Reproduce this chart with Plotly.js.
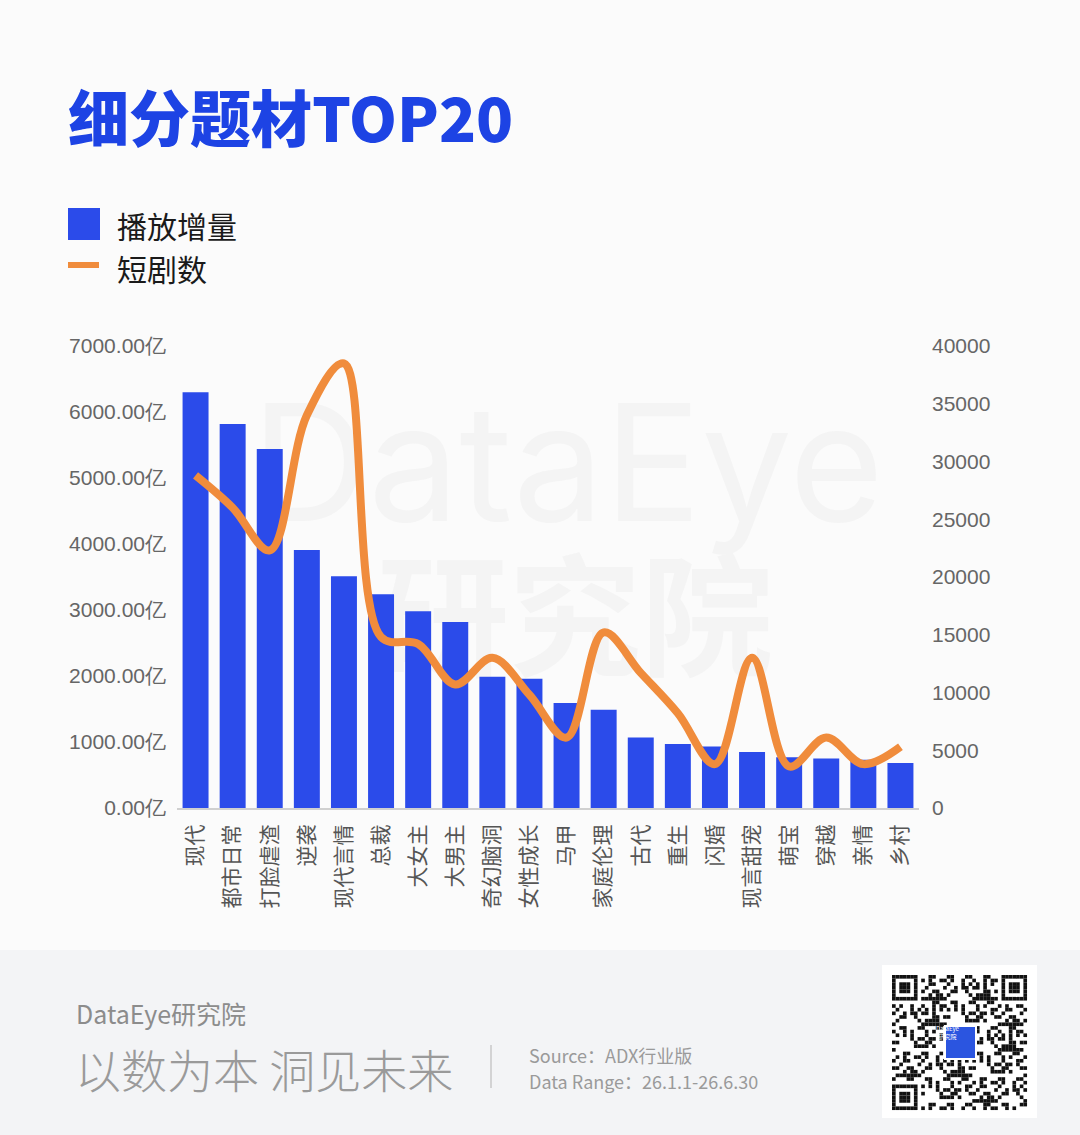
<!DOCTYPE html>
<html><head><meta charset="utf-8">
<script src="https://cdn.plot.ly/plotly-3.0.1.min.js"></script>
<style>html,body{margin:0;padding:0;background:#fbfbfb;}#chart{width:1080px;height:1135px;}</style>
</head><body><div id="chart"></div>
<script>
const categories = ['现代','都市日常','打脸虐渣','逆袭','现代言情','总裁','大女主','大男主','奇幻脑洞','女性成长','马甲','家庭伦理','古代','重生','闪婚','现言甜宠','萌宝','穿越','亲情','乡村'];
const playIncrease = [6300,5820,5440,3910,3510,3240,2980,2820,1990,1960,1590,1490,1070,970,930,850,770,750,730,680];
const dramaCount = [28800,26000,22300,34000,38500,14800,14200,10700,13000,9800,6100,15200,11700,8200,3800,13000,3600,6100,3800,5300];
const leftTicks = [0,1000,2000,3000,4000,5000,6000,7000];
const rightTicks = [0,5000,10000,15000,20000,25000,30000,35000,40000];

const L=177, R=161, T=346, B=327, W=1080-L-R, H=1135-T-B;
const X = px => (px-L)/W;
const Y = py => (1135-B-py)/H;
const CJK = '"Noto Sans CJK SC", "Noto Sans", sans-serif';

const traces = [
  {type:'bar', name:'播放增量', x:categories, y:playIncrease, marker:{color:'#2b4bea'}, yaxis:'y', hoverinfo:'skip'},
  {type:'scatter', mode:'lines', name:'短剧数', x:categories, y:dramaCount, yaxis:'y2',
   line:{color:'#f08c3c', width:8, shape:'spline', smoothing:1}, hoverinfo:'skip'}
];

const shapes = [
  // footer band
  {type:'rect', xref:'paper', yref:'paper', x0:X(0), x1:X(1080), y0:Y(950), y1:Y(1135), fillcolor:'#f3f4f6', line:{width:0}, layer:'below'},
  // watermark (drawn beneath the bars)
  {type:'rect', xref:'paper', yref:'paper', x0:X(250), x1:X(885), y0:Y(537), y1:Y(377), fillcolor:'rgba(0,0,0,0)', line:{width:0}, layer:'below',
   label:{text:'DataEye', textposition:'middle center', font:{family:'Inter, "Noto Sans", sans-serif', size:162, color:'#f4f4f4'}}},
  {type:'rect', xref:'paper', yref:'paper', x0:X(360), x1:X(790), y0:Y(692), y1:Y(567), fillcolor:'rgba(0,0,0,0)', line:{width:0}, layer:'below',
   label:{text:'研究院', textposition:'middle center', font:{family:CJK, size:132, color:'#f4f4f4', weight:700}}},
  // legend markers
  {type:'rect', xref:'paper', yref:'paper', x0:X(68), x1:X(100), y0:Y(240), y1:Y(208), fillcolor:'#2b4bea', line:{width:0}},
  {type:'line', xref:'paper', yref:'paper', x0:X(68), x1:X(99), y0:Y(265), y1:Y(265), line:{color:'#f08c3c', width:6}},
  // divider
  {type:'line', xref:'paper', yref:'paper', x0:X(491), x1:X(491), y0:Y(1045), y1:Y(1088), line:{color:'#c8c8c8', width:1.5}},
  // QR box
  {type:'rect', xref:'paper', yref:'paper', x0:X(882), x1:X(1037), y0:Y(1118), y1:Y(965), fillcolor:'#ffffff', line:{width:0}}
];
// QR-like decoration
(function(){
  const x0=892, y0=975, n=37, s=3.65;
  function cell(i,j,c){shapes.push({type:'rect', xref:'paper', yref:'paper', x0:X(x0+i*s), x1:X(x0+(i+1)*s), y0:Y(y0+(j+1)*s), y1:Y(y0+j*s), fillcolor:c, line:{width:0}});}
  function finder(ci,cj){
    for(let i=0;i<7;i++)for(let j=0;j<7;j++){
      const edge = i==0||j==0||i==6||j==6; const core = i>=2&&i<=4&&j>=2&&j<=4;
      if(edge||core) cell(ci+i,cj+j,'#111');
    }
  }
  finder(0,0); finder(n-7,0); finder(0,n-7);
  for(let i=0;i<n;i++)for(let j=0;j<n;j++){
    const inF = (i<8&&j<8)||(i>=n-8&&j<8)||(i<8&&j>=n-8);
    const inC = i>=14&&i<=22&&j>=14&&j<=22;
    if(inF||inC) continue;
    if(((i*31+j*17+(i*j)%7)%5)<2) cell(i,j,'#111');
  }
  shapes.push({type:'rect', xref:'paper', yref:'paper', x0:X(945), x1:X(976), y0:Y(1059), y1:Y(1026), fillcolor:'#2b55e0', line:{color:'#ffffff',width:2}});
})();

const annotations = [
  // title
  {xref:'paper', yref:'paper', x:X(66), y:Y(115), xanchor:'left', yanchor:'middle', text:'细分题材TOP20', showarrow:false, font:{family:CJK, size:61, color:'#1d43e4', weight:900}},
  // legend texts
  {xref:'paper', yref:'paper', x:X(115), y:Y(225), xanchor:'left', yanchor:'middle', text:'播放增量', showarrow:false, font:{family:CJK, size:30, color:'#1a1a1a'}},
  {xref:'paper', yref:'paper', x:X(115), y:Y(268), xanchor:'left', yanchor:'middle', text:'短剧数', showarrow:false, font:{family:CJK, size:30, color:'#1a1a1a'}},
  // footer
  {xref:'paper', yref:'paper', x:X(74), y:Y(1013), xanchor:'left', yanchor:'middle', text:'DataEye研究院', showarrow:false, font:{family:CJK, size:25, color:'#8c8c8c'}},
  {xref:'paper', yref:'paper', x:X(73), y:Y(1068), xanchor:'left', yanchor:'middle', text:'以数为本 洞见未来', showarrow:false, font:{family:CJK, size:46, color:'#9a9a9a', weight:300}},
  {xref:'paper', yref:'paper', x:X(527), y:Y(1055), xanchor:'left', yanchor:'middle', text:'Source：ADX行业版', showarrow:false, font:{family:CJK, size:18, color:'#9a9a9a'}},
  {xref:'paper', yref:'paper', x:X(527), y:Y(1081), xanchor:'left', yanchor:'middle', text:'Data Range：26.1.1-26.6.30', showarrow:false, font:{family:CJK, size:18, color:'#9a9a9a'}},
  {xref:'paper', yref:'paper', x:X(960.5), y:Y(1042.5), text:'DataEye<br>研究院', showarrow:false, font:{family:CJK, size:6, color:'#ffffff'}}
];

const layout = {
  width:1080, height:1135,
  margin:{l:L, r:R, t:T, b:B, pad:0},
  paper_bgcolor:'#fbfbfb', plot_bgcolor:'rgba(0,0,0,0)',
  showlegend:false, bargap:0.3,
  font:{family:CJK, color:'#555'},
  xaxis:{type:'category', tickangle:-90, ticks:'', showgrid:false, zeroline:false,
         showline:true, linecolor:'#d0d0d0', linewidth:2,
         tickfont:{family:CJK, size:21, color:'#555'}, ticklabelstandoff:6, fixedrange:true},
  yaxis:{range:[0,7000], tickvals:leftTicks, ticktext:leftTicks.map(v=>v.toFixed(2)+'亿'),
         showgrid:false, zeroline:false, showline:false, ticks:'',
         tickfont:{family:'"Liberation Sans", Arial, sans-serif', size:21, color:'#666'}, ticklabelstandoff:10, fixedrange:true},
  yaxis2:{range:[0,40000], tickvals:rightTicks, ticktext:rightTicks.map(v=>String(v)), overlaying:'y', side:'right',
          showgrid:false, zeroline:false, showline:false, ticks:'',
          tickfont:{family:'"Liberation Sans", Arial, sans-serif', size:21, color:'#666'}, ticklabelstandoff:12, fixedrange:true},
  shapes:shapes, annotations:annotations
};
Plotly.newPlot('chart', traces, layout, {displayModeBar:false, staticPlot:true});
</script></body></html>
